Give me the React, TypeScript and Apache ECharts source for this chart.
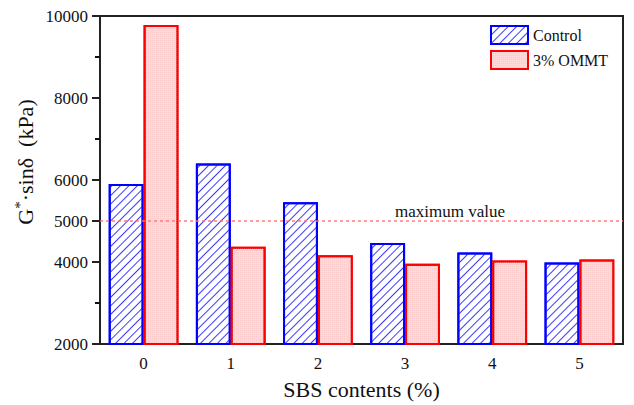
import React, { useEffect, useRef } from "react";
import * as echarts from "echarts";

const categories = ["0", "1", "2", "3", "4", "5"];
const controlValues = [5900, 6400, 5460, 4465, 4230, 3990];
const ommtValues = [9780, 4370, 4165, 3960, 4035, 4060];
const majorTicks = [2000, 4000, 5000, 6000, 8000, 10000];
const minorTicks = [3000, 7000, 9000];
const maxLine = 5000;
const seriesNames = ["Control", "3% OMMT"];

const FONT = "Liberation Serif";

export default function App() {
  const ref = useRef<HTMLDivElement>(null);
  useEffect(() => {
    if (!ref.current) return;
    const chart = echarts.init(ref.current, null, { renderer: "svg" });
    chart.setOption({
      animation: false,
      textStyle: { fontFamily: FONT },
      grid: {
        left: 100,
        right: 11,
        top: 16,
        bottom: 59,
        show: true,
        borderColor: "#222",
        borderWidth: 2,
        backgroundColor: "transparent",
      },
      legend: {
        orient: "vertical",
        left: 490,
        top: 25,
        padding: 0,
        itemWidth: 37,
        itemHeight: 18,
        itemGap: 5,
        icon: "rect",
        textStyle: { fontFamily: FONT, fontSize: 16, color: "#111" },
        data: seriesNames,
      },
      xAxis: {
        type: "category",
        data: categories,
        name: "SBS contents (%)",
        nameLocation: "middle",
        nameGap: 34,
        nameTextStyle: { fontFamily: FONT, fontSize: 22, color: "#111" },
        axisLine: { lineStyle: { color: "#222", width: 2 } },
        axisTick: { show: false },
        axisLabel: { fontFamily: FONT, fontSize: 17, color: "#111", margin: 11 },
      },
      yAxis: [
        {
          type: "value",
          min: 2000,
          max: 10000,
          interval: 1000,
          axisLine: { show: true, lineStyle: { color: "#222", width: 2 } },
          axisTick: {
            show: true,
            length: 8,
            customValues: majorTicks,
            lineStyle: { color: "#222", width: 2 },
          },
          axisLabel: {
            fontFamily: FONT,
            fontSize: 17,
            color: "#111",
            margin: 12,
            customValues: majorTicks,
            formatter: (v: number) => String(v),
          },
          splitLine: { show: false },
        },
        {
          type: "value",
          min: 2000,
          max: 10000,
          interval: 1000,
          position: "left",
          axisLine: { show: true, lineStyle: { color: "#222", width: 2 } },
          axisTick: {
            show: true,
            length: 5,
            customValues: minorTicks,
            lineStyle: { color: "#111", width: 2 },
          },
          axisLabel: { show: false, customValues: minorTicks },
          splitLine: { show: false },
        },
      ],
      series: [
        {
          name: seriesNames[0],
          type: "bar",
          data: controlValues,
          yAxisIndex: 0,
          barGap: "0%",
          barCategoryGap: "20%",
          itemStyle: {
            color: "#ffffff",
            borderColor: "#0000ff",
            borderWidth: 2,
            decal: {
              symbol: "rect",
              symbolSize: 1,
              dashArrayX: [1, 0],
              dashArrayY: [1, 5],
              rotation: -Math.PI / 4,
              color: "#3b3bff",
              backgroundColor: "#ffffff",
            },
          },
        },
        {
          name: seriesNames[1],
          type: "bar",
          data: ommtValues,
          yAxisIndex: 0,
          barGap: "0%",
          barCategoryGap: "20%",
          itemStyle: {
            color: "#fdd9d9",
            borderColor: "#ff0000",
            borderWidth: 2,
            decal: {
              symbol: "rect",
              symbolSize: 1,
              dashArrayX: [1, 1],
              dashArrayY: [1, 1],
              rotation: 0,
              color: "#fbcaca",
              backgroundColor: "#fde6e6",
            },
          },
          markLine: {
            silent: true,
            symbol: "none",
            label: { show: false },
            lineStyle: { color: "#ff7070", type: [3, 3], width: 1.5, opacity: 0.9 },
            data: [{ yAxis: maxLine }],
          },
        },
      ],
      graphic: [
        {
          type: "text",
          x: 25,
          y: 162,
          rotation: Math.PI / 2,
          style: {
            text: "G{sup|*}·sinδ  (kPa)",
            fontFamily: FONT,
            fontSize: 22,
            fill: "#111",
            align: "center",
            verticalAlign: "middle",
            rich: {
              sup: { fontSize: 15, verticalAlign: "top", fontFamily: FONT, fill: "#111", padding: [0, 0, 10, 0] },
            },
          },
        },
        {
          type: "text",
          x: 450,
          y: 211,
          style: {
            text: "maximum value",
            fontFamily: FONT,
            fontSize: 17,
            fill: "#111",
            align: "center",
            verticalAlign: "middle",
          },
        },
      ],
    });
    return () => chart.dispose();
  }, []);
  return <div ref={ref} style={{ width: 634, height: 405, position: "absolute", left: 0, top: 0 }} />;
}
